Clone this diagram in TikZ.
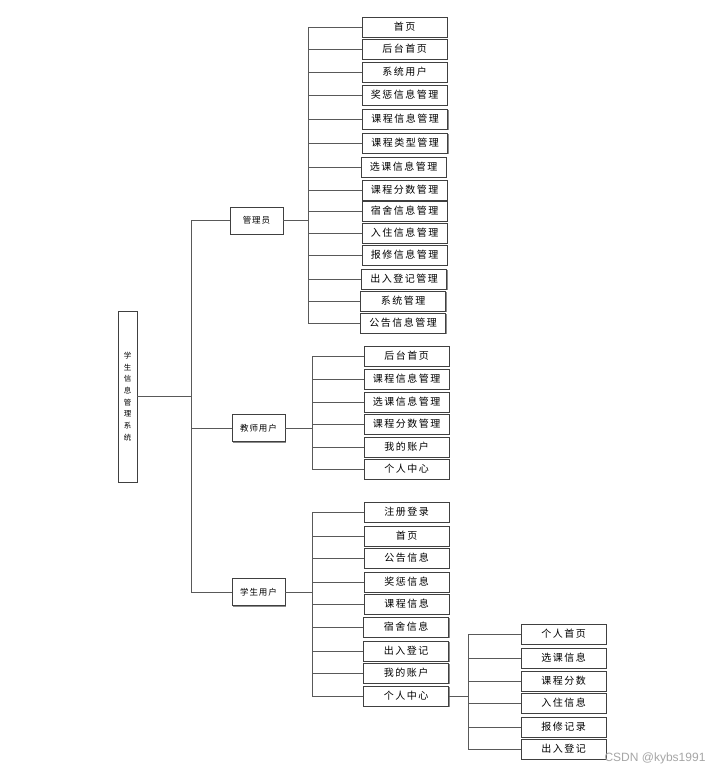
\documentclass[tikz,border=0pt]{standalone}
\usepackage{fontspec}
\newfontfamily\cjk{Noto Sans CJK SC}[LetterSpace=15]
\newfontfamily\cjkmid{Noto Sans CJK SC}[LetterSpace=10]
\newfontfamily\cjkroot{Noto Sans CJK SC}
\newfontfamily\wmfont{Liberation Sans}
\usetikzlibrary{shadows}
\begin{document}
\begin{tikzpicture}[x=1pt,y=-1pt,
  conn/.style={draw=black!65, line width=0.9pt},
  leaf/.style={draw=black!75, line width=0.9pt, fill=white, minimum width=85pt, minimum height=20pt, inner sep=0pt,
    font=\cjk\fontsize{10}{12}\selectfont,
    drop shadow={shadow xshift=1pt, shadow yshift=-1pt, fill=black!45, opacity=1}},
  mid/.style={draw=black!75, line width=0.9pt, fill=white, minimum width=53pt, minimum height=27pt, inner sep=0pt,
    font=\cjkmid\fontsize{8.5}{10}\selectfont,
    drop shadow={shadow xshift=1pt, shadow yshift=-1pt, fill=black!45, opacity=1}},
  rootbox/.style={draw=black!75, line width=0.9pt, fill=white, minimum width=19pt, minimum height=171pt, inner sep=0pt,
    font=\cjkroot\fontsize{7.5}{11.7}\selectfont, align=center,
    drop shadow={shadow xshift=1pt, shadow yshift=-1pt, fill=black!45, opacity=1}}
]
\useasboundingbox[fill=white] (0,0) rectangle (718,771);

% root
\node[rootbox] (root) at (127.5,396.5) {学\\生\\信\\息\\管\\理\\系\\统};
\coordinate (trunk) at (191,396);

% second level
\node[mid] (admin) at (256.5,220.5) {管理员};
\node[mid] (teacher) at (258.5,428) {教师用户};
\node[mid] (student) at (258.5,592) {学生用户};

% admin children
\node[leaf] (a1) at (404.5,27) {首页};
\node[leaf] (a2) at (404.5,49) {后台首页};
\node[leaf] (a3) at (404.5,72) {系统用户};
\node[leaf] (a4) at (404.5,95) {奖惩信息管理};
\node[leaf] (a5) at (405,119) {课程信息管理};
\node[leaf] (a6) at (405,143) {课程类型管理};
\node[leaf] (a7) at (403.5,167) {选课信息管理};
\node[leaf] (a8) at (404.5,190) {课程分数管理};
\node[leaf] (a9) at (404.5,211) {宿舍信息管理};
\node[leaf] (a10) at (404.5,233) {入住信息管理};
\node[leaf] (a11) at (404.5,255) {报修信息管理};
\node[leaf] (a12) at (404,279) {出入登记管理};
\node[leaf] (a13) at (403,301) {系统管理};
\node[leaf] (a14) at (403,323) {公告信息管理};
\coordinate (abus) at (308,220.5);

% teacher children
\node[leaf] (t1) at (406.5,356) {后台首页};
\node[leaf] (t2) at (406.5,379) {课程信息管理};
\node[leaf] (t3) at (406.5,402) {选课信息管理};
\node[leaf] (t4) at (406.5,424) {课程分数管理};
\node[leaf] (t5) at (406.5,447) {我的账户};
\node[leaf] (t6) at (406.5,469) {个人中心};
\coordinate (tbus) at (312,428);

% student children
\node[leaf] (s1) at (406.5,512) {注册登录};
\node[leaf] (s2) at (406.5,536) {首页};
\node[leaf] (s3) at (406.5,558) {公告信息};
\node[leaf] (s4) at (406.5,582) {奖惩信息};
\node[leaf] (s5) at (406.5,604) {课程信息};
\node[leaf] (s6) at (406,627) {宿舍信息};
\node[leaf] (s7) at (406,651) {出入登记};
\node[leaf] (s8) at (406,673) {我的账户};
\node[leaf] (s9) at (406,696) {个人中心};
\coordinate (sbus) at (312,592);

% personal center children
\node[leaf] (p1) at (563.5,634) {个人首页};
\node[leaf] (p2) at (563.5,658) {选课信息};
\node[leaf] (p3) at (563.5,681) {课程分数};
\node[leaf] (p4) at (563.5,703) {入住信息};
\node[leaf] (p5) at (563.5,727) {报修记录};
\node[leaf] (p6) at (563.5,749) {出入登记};
\coordinate (pbus) at (468,696);

% connectors: root level
\draw[conn] (root.east |- trunk) -- (trunk);
\draw[conn] (trunk |- admin.west) -- (trunk |- student.west);
\foreach \n in {admin,teacher,student} \draw[conn] (trunk |- \n.west) -- (\n.west);

% admin
\draw[conn] (admin.east) -- (abus);
\draw[conn] (abus |- a1.west) -- (abus |- a14.west);
\foreach \n in {a1,a2,a3,a4,a5,a6,a7,a8,a9,a10,a11,a12,a13,a14} \draw[conn] (abus |- \n.west) -- (\n.west);

% teacher
\draw[conn] (teacher.east) -- (tbus);
\draw[conn] (tbus |- t1.west) -- (tbus |- t6.west);
\foreach \n in {t1,t2,t3,t4,t5,t6} \draw[conn] (tbus |- \n.west) -- (\n.west);

% student
\draw[conn] (student.east) -- (sbus);
\draw[conn] (sbus |- s1.west) -- (sbus |- s9.west);
\foreach \n in {s1,s2,s3,s4,s5,s6,s7,s8,s9} \draw[conn] (sbus |- \n.west) -- (\n.west);

% personal center
\draw[conn] (s9.east) -- (pbus);
\draw[conn] (pbus |- p1.west) -- (pbus |- p6.west);
\foreach \n in {p1,p2,p3,p4,p5,p6} \draw[conn] (pbus |- \n.west) -- (\n.west);

% watermark
\node[text=black!35, font=\wmfont\fontsize{12}{14}\selectfont, inner sep=0pt] (wm) at (655,758) {CSDN @kybs1991};
\end{tikzpicture}
\end{document}
